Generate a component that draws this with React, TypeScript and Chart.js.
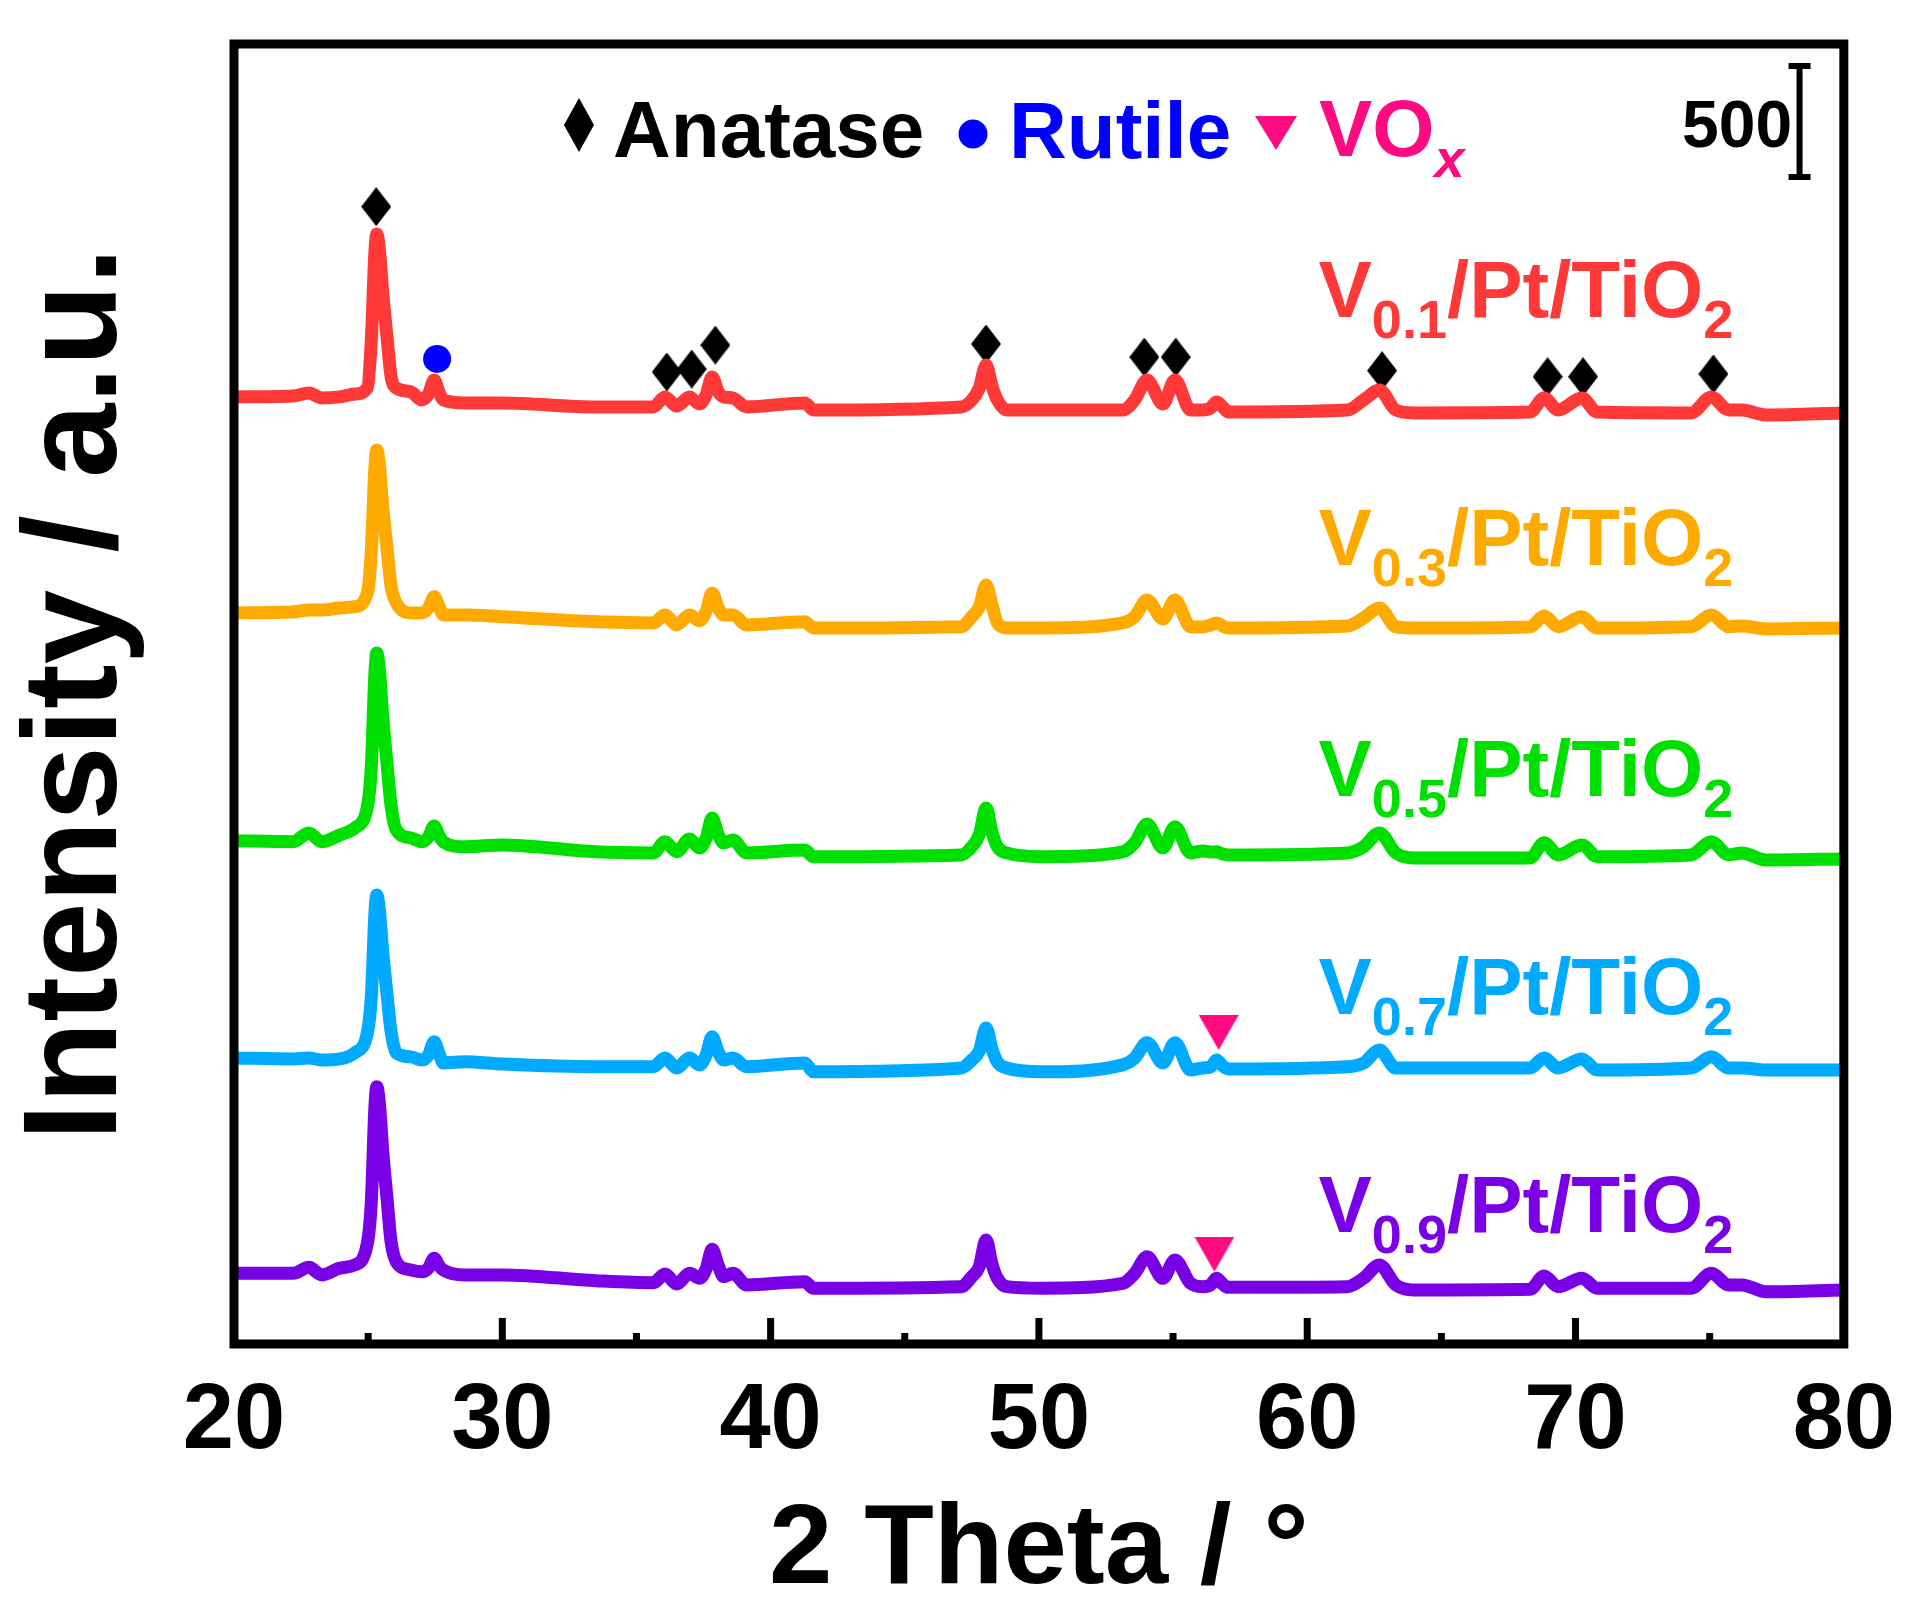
import React, { useEffect, useRef } from 'react';
import { Chart, registerables } from 'chart.js';

Chart.register(...registerables);

// ---------------- DATA ----------------
const twoTheta = [
  20.0, 22.2, 22.79, 23.27, 23.95, 24.5, 24.97, 25.12, 25.25, 25.32, 25.42, 25.55, 25.71, 25.85, 26.05, 26.6, 27.0,
  27.25, 27.46, 27.65, 27.8, 28.6, 30.0, 33.5, 35.63, 36.06, 36.5, 36.98, 37.35, 37.6, 37.82, 38.05, 38.25, 38.6,
  39.1, 41.27, 41.6, 47.1, 47.5, 47.78, 48.03, 48.25, 48.45, 48.8, 50.1, 53.12, 53.57, 54.03, 54.62, 55.07, 55.65,
  56.1, 56.4, 56.62, 56.85, 57.05, 61.5, 62.1, 62.69, 63.3, 63.98, 68.3, 68.83, 69.35, 70.24, 70.8, 74.3, 75.07,
  75.7, 76.2, 77.1, 80.0,
];

// intensities (counts, already stacked with the plot offsets)
const v01 = [
  4262, 4266, 4280, 4257, 4262, 4275, 4302, 4523, 4910, 4995, 4923, 4721, 4523, 4356, 4302, 4284, 4248, 4275, 4338,
  4280, 4248, 4235, 4235, 4217, 4217, 4262, 4221, 4262, 4230, 4273, 4352, 4284, 4262, 4257, 4217, 4235, 4203, 4217,
  4248, 4302, 4406, 4311, 4248, 4203, 4203, 4203, 4248, 4338, 4230, 4338, 4203, 4203, 4212, 4239, 4217, 4194, 4203,
  4248, 4293, 4203, 4190, 4194, 4257, 4203, 4257, 4194, 4190, 4262, 4203, 4203, 4181, 4190,
];
const v03 = [
  3290, 3294, 3303, 3303, 3312, 3318, 3380, 3573, 3940, 4023, 3954, 3760, 3573, 3413, 3335, 3290, 3290, 3312, 3363,
  3317, 3281, 3281, 3273, 3250, 3245, 3281, 3236, 3281, 3255, 3299, 3380, 3312, 3281, 3281, 3236, 3250, 3222, 3228,
  3273, 3317, 3416, 3326, 3245, 3222, 3222, 3245, 3273, 3348, 3263, 3348, 3228, 3227, 3236, 3245, 3231, 3222, 3231,
  3267, 3312, 3228, 3222, 3227, 3276, 3228, 3273, 3222, 3228, 3281, 3228, 3231, 3218, 3222,
];
const v05 = [
  2265, 2260, 2300, 2260, 2291, 2322, 2418, 2603, 3015, 3110, 3032, 2813, 2603, 2426, 2313, 2277, 2260, 2282, 2331,
  2286, 2260, 2238, 2246, 2215, 2210, 2260, 2215, 2273, 2232, 2277, 2367, 2291, 2255, 2268, 2210, 2223, 2193, 2201,
  2238, 2293, 2412, 2304, 2238, 2210, 2193, 2215, 2255, 2340, 2232, 2328, 2210, 2219, 2214, 2215, 2205, 2201, 2210,
  2238, 2300, 2210, 2187, 2187, 2256, 2201, 2246, 2193, 2201, 2260, 2201, 2210, 2178, 2183,
];
const v07 = [
  1287, 1283, 1287, 1278, 1283, 1310, 1400, 1566, 1935, 2021, 1951, 1755, 1566, 1409, 1310, 1292, 1278, 1301, 1360,
  1305, 1265, 1270, 1260, 1248, 1248, 1287, 1242, 1287, 1256, 1301, 1383, 1314, 1278, 1287, 1248, 1265, 1225, 1242,
  1278, 1319, 1422, 1328, 1269, 1242, 1225, 1256, 1287, 1356, 1265, 1356, 1233, 1242, 1247, 1278, 1251, 1238, 1248,
  1265, 1323, 1242, 1242, 1242, 1287, 1242, 1283, 1233, 1242, 1293, 1242, 1242, 1233, 1233,
];
const v09 = [
  318, 318, 345, 311, 341, 356, 453, 645, 1063, 1158, 1079, 858, 645, 464, 370, 333, 325, 342, 386, 351, 333, 311,
  311, 285, 276, 315, 270, 318, 296, 339, 426, 353, 303, 318, 266, 280, 251, 258, 303, 349, 468, 360, 296, 258, 251,
  273, 318, 393, 296, 378, 273, 258, 266, 296, 270, 255, 258, 296, 356, 266, 243, 246, 306, 258, 296, 251, 251, 318,
  266, 266, 235, 243,
];

const seriesSubscripts = ['0.1', '0.3', '0.5', '0.7', '0.9'];

// phase markers
const anataseX = [25.3, 36.13, 37.06, 37.94, 48.03, 53.93, 55.1, 62.79, 68.96, 70.28, 75.14];
const anataseY = [5118, 4374, 4387, 4495, 4500, 4441, 4441, 4380, 4353, 4353, 4365];
const rutileX = [27.57];
const rutileY = [4433];
const voxX = [56.7, 56.54];
const voxY = [1402, 404];

// 500-count scale bar
const scaleBarX = [78.35, 78.35];
const scaleBarY = [5251, 5751];
const scaleBarLabel = '500';

// axis ticks
const majorTicks = [30, 40, 50, 60, 70];
const minorTicks = [25, 35, 45, 55, 65, 75];

// ---------------- STYLE / LAYOUT ----------------
const FONT = '"Liberation Sans", Arial, Helvetica, sans-serif';
const COLORS = ['#ff3838', '#ffaa00', '#00e000', '#00aaff', '#7a00e6'];
const PINK = '#ff0a80';
const RUTILE_BLUE = '#0000ff';
// label anchor (in data units: x = 2theta of label start, y = baseline)
const LABEL_X = 60.42;
const LABEL_Y = [4623, 3505, 2467, 1485, 505];

function makeDiamond(w: number, h: number, color: string) {
  const c = document.createElement('canvas');
  c.width = w;
  c.height = h;
  const g = c.getContext('2d')!;
  g.fillStyle = color;
  g.beginPath();
  g.moveTo(w / 2, 0);
  g.lineTo(w, h / 2);
  g.lineTo(w / 2, h);
  g.lineTo(0, h / 2);
  g.closePath();
  g.fill();
  return c;
}

function makeDownTriangle(w: number, h: number, color: string) {
  const c = document.createElement('canvas');
  c.width = w;
  c.height = h;
  const g = c.getContext('2d')!;
  g.fillStyle = color;
  g.beginPath();
  g.moveTo(0, 0);
  g.lineTo(w, 0);
  g.lineTo(w / 2, h);
  g.closePath();
  g.fill();
  return c;
}

type Part = { text: string; size: number; dy?: number; italic?: boolean; color?: string };

function drawRich(ctx: CanvasRenderingContext2D, x: number, y: number, parts: Part[], color: string) {
  let cx = x;
  ctx.textAlign = 'left';
  ctx.textBaseline = 'alphabetic';
  for (const p of parts) {
    ctx.font = `${p.italic ? 'italic ' : ''}bold ${p.size}px ${FONT}`;
    ctx.fillStyle = p.color || color;
    ctx.fillText(p.text, cx, y + (p.dy || 0));
    cx += ctx.measureText(p.text).width;
  }
}

const overlayPlugin = {
  id: 'overlay',
  afterDatasetsDraw(chart: any) {
    const { ctx, chartArea: ca, scales } = chart;
    const xs = scales.x;
    const ys = scales.y;
    ctx.save();
    // frame
    ctx.strokeStyle = '#000';
    ctx.lineWidth = 9;
    ctx.strokeRect(ca.left, ca.top, ca.right - ca.left, ca.bottom - ca.top);
    // ticks (inward)
    ctx.lineWidth = 7;
    ctx.lineCap = 'butt';
    for (const v of majorTicks) {
      const px = xs.getPixelForValue(v);
      ctx.beginPath();
      ctx.moveTo(px, ca.bottom);
      ctx.lineTo(px, ca.bottom - 26);
      ctx.stroke();
    }
    for (const v of minorTicks) {
      const px = xs.getPixelForValue(v);
      ctx.beginPath();
      ctx.moveTo(px, ca.bottom);
      ctx.lineTo(px, ca.bottom - 11);
      ctx.stroke();
    }

    // y axis title
    ctx.save();
    ctx.translate(116, (ca.top + ca.bottom) / 2);
    ctx.rotate(-Math.PI / 2);
    ctx.font = `bold 134px ${FONT}`;
    ctx.fillStyle = '#000';
    ctx.textAlign = 'center';
    ctx.textBaseline = 'alphabetic';
    ctx.fillText('Intensity / a.u.', 0, 0);
    ctx.restore();

    // legend
    ctx.fillStyle = '#000';
    ctx.beginPath();
    ctx.moveTo(579, 98);
    ctx.lineTo(594, 125);
    ctx.lineTo(579, 152);
    ctx.lineTo(564, 125);
    ctx.closePath();
    ctx.fill();
    drawRich(ctx, 613, 157, [{ text: 'Anatase', size: 80 }], '#000');

    ctx.fillStyle = RUTILE_BLUE;
    ctx.beginPath();
    ctx.arc(973, 134, 14.5, 0, Math.PI * 2);
    ctx.fill();
    drawRich(ctx, 1009, 158, [{ text: 'Rutile', size: 80 }], RUTILE_BLUE);

    ctx.fillStyle = PINK;
    ctx.beginPath();
    ctx.moveTo(1255, 116);
    ctx.lineTo(1297, 116);
    ctx.lineTo(1276, 150);
    ctx.closePath();
    ctx.fill();
    drawRich(
      ctx,
      1319,
      156,
      [
        { text: 'VO', size: 80 },
        { text: 'x', size: 54, dy: 21, italic: true },
      ],
      PINK
    );

    // scale bar label
    drawRich(ctx, 1682, 147, [{ text: scaleBarLabel, size: 66 }], '#000');

    // series labels
    seriesSubscripts.forEach((sub, i) => {
      const lx = xs.getPixelForValue(LABEL_X);
      const ly = ys.getPixelForValue(LABEL_Y[i]);
      drawRich(
        ctx,
        lx,
        ly,
        [
          { text: 'V', size: 80 },
          { text: sub, size: 54, dy: 21 },
          { text: '/Pt/TiO', size: 80 },
          { text: '2', size: 54, dy: 21 },
        ],
        COLORS[i]
      );
    });
    ctx.restore();
  },
};

export default function App() {
  const ref = useRef<HTMLCanvasElement>(null);

  useEffect(() => {
    document.body.style.margin = '0';
    document.body.style.overflow = 'hidden';
    const diamond = makeDiamond(30, 39, '#000');
    const tri = makeDownTriangle(40, 35, PINK);
    const series = [v01, v03, v05, v07, v09];

    const datasets: any[] = series.map((vals, i) => ({
      label: 'V' + seriesSubscripts[i] + '/Pt/TiO2',
      data: twoTheta.map((x, j) => ({ x, y: vals[j] })),
      borderColor: COLORS[i],
      borderWidth: 13,
      pointRadius: 0,
      fill: false,
      cubicInterpolationMode: 'monotone',
      borderJoinStyle: 'round',
      borderCapStyle: 'round',
    }));
    datasets.push({
      label: 'Anatase',
      data: anataseX.map((x, j) => ({ x, y: anataseY[j] })),
      showLine: false,
      pointStyle: diamond,
      pointRadius: 15,
    });
    datasets.push({
      label: 'Rutile',
      data: rutileX.map((x, j) => ({ x, y: rutileY[j] })),
      showLine: false,
      pointStyle: 'circle',
      pointRadius: 14,
      pointBackgroundColor: RUTILE_BLUE,
      pointBorderWidth: 0,
    });
    datasets.push({
      label: 'VOx',
      data: voxX.map((x, j) => ({ x, y: voxY[j] })),
      showLine: false,
      pointStyle: tri,
      pointRadius: 15,
    });
    datasets.push({
      label: 'scale',
      data: scaleBarX.map((x, j) => ({ x, y: scaleBarY[j] })),
      borderColor: '#000',
      borderWidth: 6,
      pointStyle: 'line',
      pointRadius: 11,
      pointBorderWidth: 6,
      pointBorderColor: '#000',
    });

    const chart = new Chart(ref.current!, {
      type: 'line',
      data: { datasets },
      options: {
        animation: false,
        responsive: false,
        devicePixelRatio: 1,
        events: [],
        layout: { padding: { left: 234, right: 72, top: 44, bottom: 0 } },
        plugins: { legend: { display: false }, tooltip: { enabled: false } },
        scales: {
          x: {
            type: 'linear',
            min: 20,
            max: 80,
            grid: { display: false, drawTicks: false },
            border: { display: false },
            ticks: {
              stepSize: 10,
              padding: 23,
              maxRotation: 0,
              autoSkip: false,
              color: '#000',
              font: { family: FONT, size: 92, weight: 'bold' },
            },
            title: {
              display: true,
              text: '2 Theta / °',
              color: '#000',
              font: { family: FONT, size: 114, weight: 'bold' },
              padding: { top: 0, bottom: 1 },
            },
            afterFit: (scale: any) => {
              scale.height = 277;
            },
          },
          y: {
            type: 'linear',
            display: false,
            min: 0,
            max: 5850,
          },
        },
      } as any,
      plugins: [overlayPlugin],
    });
    return () => chart.destroy();
  }, []);

  return (
    <div style={{ position: 'absolute', left: 0, top: 0, width: 1918, height: 1621, background: '#fff' }}>
      <canvas ref={ref} width={1918} height={1621} style={{ width: 1918, height: 1621, display: 'block' }} />
    </div>
  );
}
